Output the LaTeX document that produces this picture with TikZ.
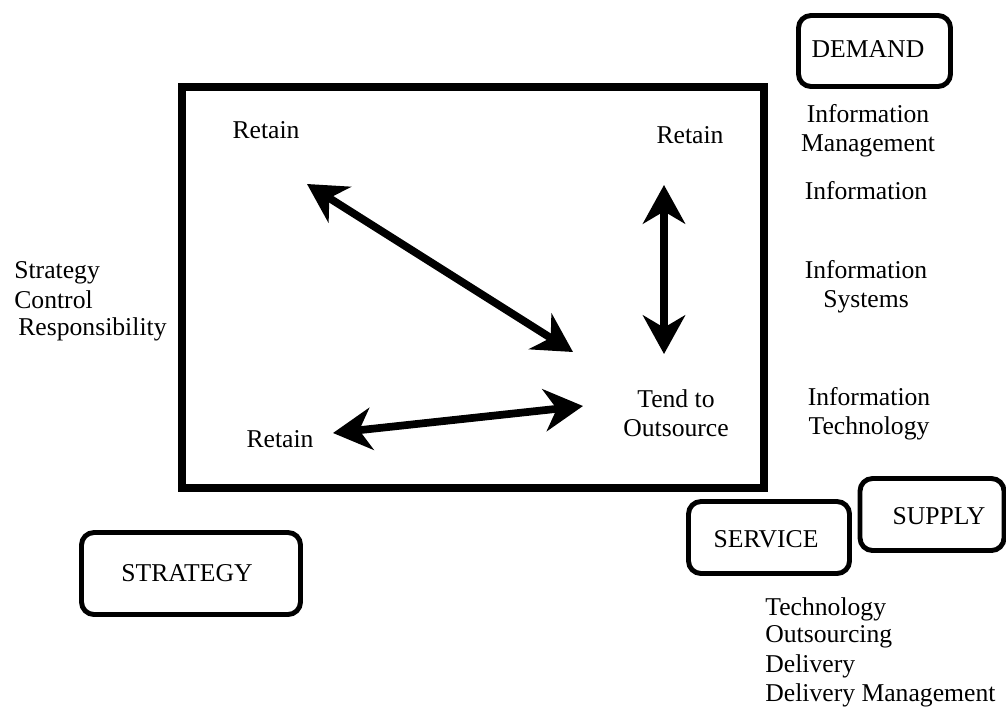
\documentclass[tikz,border=0pt]{standalone}
\usepackage{fontspec}
\setmainfont{Liberation Serif}
\usetikzlibrary{arrows.meta}
\begin{document}
\begin{tikzpicture}[x=0.02cm,y=-0.02cm,
  every node/.style={font=\fontsize{14.6}{16.3}\selectfont, inner sep=0pt},
  lbl/.style={align=center},
  lbll/.style={align=left, anchor=west},
  rbox/.style={draw, line width=2.8pt, rounded corners=0.25cm},
  frame/.style={draw, line width=4.5pt, minimum width=582*0.02cm, minimum height=401*0.02cm},
  dblarrow/.style={line width=4.4pt, {Stealth[length=22pt,width=24pt,inset=7pt]}-{Stealth[length=22pt,width=24pt,inset=7pt]}}
]
\useasboundingbox (0,0) rectangle (1006,707);
% main frame
\node[frame] (frame) at (473,287.5) {};
% texts in frame
\node (rtl) at (266,130) {Retain};
\node (rtr) at (690,135) {Retain};
\node (rbl) at (280,439) {Retain};
\node[lbl] (tend) at (676,413) {Tend to\\Outsource};
% arrow endpoints
\coordinate (a1s) at (307,184);
\coordinate (a1e) at (573,352);
\coordinate (a2s) at (664,185);
\coordinate (a2e) at (664,354);
\coordinate (a3s) at (333,433);
\coordinate (a3e) at (583,406);
\draw[dblarrow] (a1s) -- (a1e);
\draw[dblarrow] (a2s) -- (a2e);
\draw[dblarrow] (a3s) -- (a3e);
% left labels
\node[lbll] (str) at (14,273) {Strategy};
\node[lbll] (ctl) at (14,300) {Control};
\node[lbll] (rsp) at (18,329) {Responsibility};
% boxes
\node[rbox, minimum width=152*0.02cm, minimum height=71*0.02cm] (demand) at (874.5,51) {};
\node (demandt) at (868,49) {DEMAND};
\node[rbox, minimum width=219*0.02cm, minimum height=82*0.02cm] (strategy) at (191,573.5) {};
\node (strategyt) at (187,573) {STRATEGY};
\node[rbox, minimum width=161*0.02cm, minimum height=72*0.02cm] (service) at (769,537.5) {};
\node (servicet) at (766,539) {SERVICE};
\node[rbox, minimum width=144*0.02cm, minimum height=72*0.02cm] (supply) at (932,514.5) {};
\node (supplyt) at (939,516) {SUPPLY};
% right labels
\node[lbl] (im) at (868,131) {Information\\Management};
\node (inf) at (866,191) {Information};
\node[lbl] (is) at (866,286.5) {Information\\Systems};
\node[lbl] (it) at (869,414) {Information\\Technology};
% bottom labels
\node[lbll] (tech) at (765,609) {Technology};
\node[lbll] (outs) at (765,637) {Outsourcing};
\node[lbll] (del) at (765,666) {Delivery};
\node[lbll] (delm) at (765,695) {Delivery Management};
\end{tikzpicture}
\end{document}
